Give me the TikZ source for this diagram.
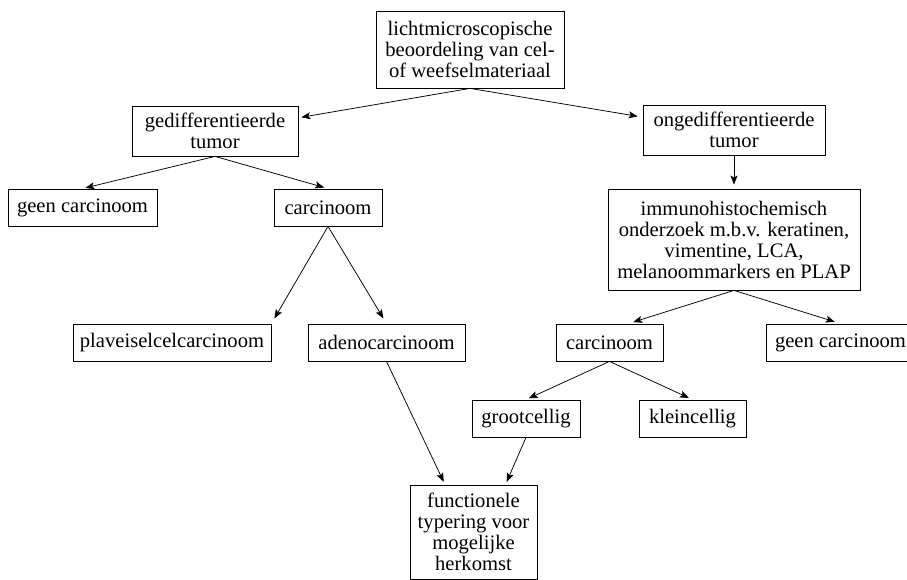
\documentclass[tikz,border=0pt]{standalone}
\usepackage{fontspec}
\setmainfont{Liberation Serif}
\usetikzlibrary{arrows.meta}

\begin{document}
\begin{tikzpicture}[
    x=1pt, y=1pt,
    box/.style={draw, line width=0.8pt, align=center, inner sep=0pt, font=\fontsize{20.6}{21}\selectfont},
    arr/.style={-{Stealth[length=9pt, width=7pt, inset=2pt]}, line width=0.75pt}
]
\clip (0,0) rectangle (907,580);
% bovenste rij
\node[box, minimum width=188, minimum height=77] (T) at (470,530.5) {lichtmicroscopische\\beoordeling van cel-\\of weefselmateriaal};
\node[box, minimum width=166, minimum height=50] (G) at (215,449) {gedifferentieerde\\tumor};
\node[box, minimum width=182, minimum height=50] (O) at (734,450) {ongedifferentieerde\\tumor};
% linker tak
\node[box, minimum width=149, minimum height=37] (GL) at (82.5,372.5) {geen carcinoom};
\node[box, minimum width=108, minimum height=37] (CL) at (328,372.5) {carcinoom};
\node[box, minimum width=198, minimum height=37] (P) at (172,237.5) {plaveiselcelcarcinoom};
\node[box, minimum width=157, minimum height=37] (A) at (386.5,237.5) {adenocarcinoom};
% rechter tak
\node[box, minimum width=252, minimum height=101] (I) at (734,340.5) {immunohistochemisch\\onderzoek m.b.v. keratinen,\\vimentine, LCA,\\melanoommarkers en PLAP};
\node[box, minimum width=107, minimum height=37] (CR) at (609.5,237.5) {carcinoom};
\node[box, minimum width=149, minimum height=37] (GR) at (840.5,237.5) {geen carcinoom};
\node[box, minimum width=108, minimum height=37] (GC) at (526,161.5) {grootcellig};
\node[box, minimum width=107, minimum height=37] (K) at (692.5,161.5) {kleincellig};
% onderaan
\node[box, minimum width=127, minimum height=94] (F) at (473.5,48) {functionele\\typering voor\\mogelijke\\herkomst};

\draw[arr, shorten >=3pt] (T.south) -- (G.9);
\draw[arr, shorten >=5pt] (T.south) -- (O.172);
\draw[arr, shorten >=3pt] (G.south) -- (GL.north);
\draw[arr, shorten >=4pt] (G.south) -- (CL.north);
\draw[arr, shorten >=6pt] (CL.south) -- (P.north east);
\draw[arr, shorten >=6pt] (CL.south) -- (A.north);
\draw[arr, shorten >=4pt] (O.south) -- (I.north);
\draw[arr, shorten >=5pt] (I.south) -- (CR.45);
\draw[arr, shorten >=6pt] (I.south) -- (GR.north);
\draw[arr, shorten >=3pt] (CR.south) -- (GC.north);
\draw[arr, shorten >=4pt] (CR.south) -- (K.north);
\draw[arr, shorten >=3pt] (A.south) -- (F.121);
\draw[arr, shorten >=3pt] (GC.south) -- (F.56);
\end{tikzpicture}
\end{document}
